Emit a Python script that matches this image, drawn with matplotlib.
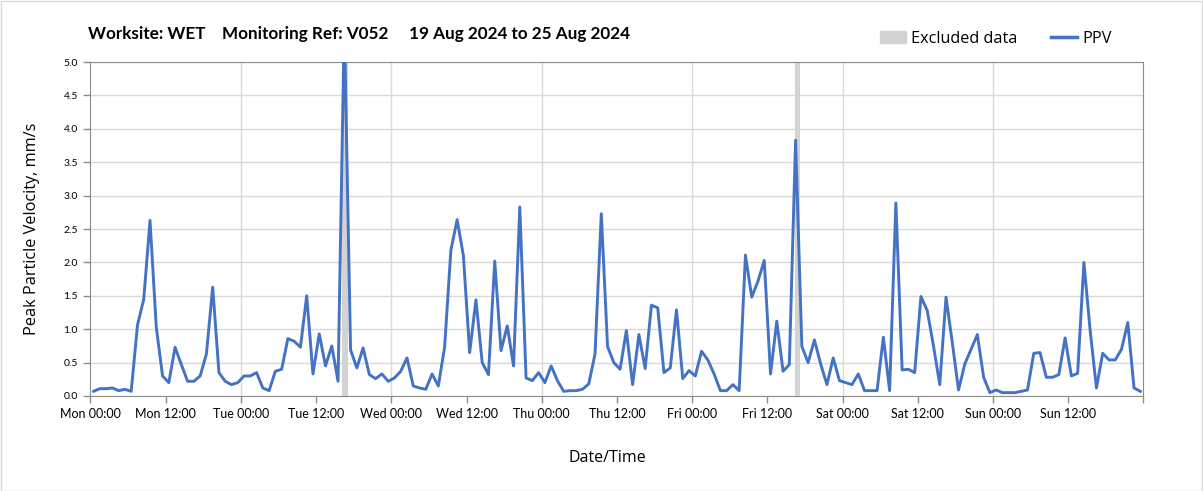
import pandas as pd
import matplotlib
matplotlib.use('Agg')
import matplotlib.pyplot as plt
from matplotlib.patches import Patch, Rectangle
from matplotlib.lines import Line2D

# hourly PPV readings, Mon 19 Aug 2024 -> Sun 25 Aug 2024
ppv = [
    0.07, 0.11, 0.11, 0.12, 0.08, 0.10, 0.07, 1.06, 1.45, 2.63, 1.03, 0.30,
    0.20, 0.73, 0.47, 0.22, 0.22, 0.30, 0.63, 1.63, 0.35, 0.22, 0.17, 0.20,
    0.30, 0.30, 0.35, 0.12, 0.08, 0.37, 0.40, 0.86, 0.82, 0.73, 1.50, 0.33,
    0.93, 0.45, 0.75, 0.22, 5.60, 0.69, 0.42, 0.72, 0.32, 0.26, 0.33, 0.22,
    0.27, 0.37, 0.57, 0.15, 0.12, 0.10, 0.33, 0.15, 0.73, 2.18, 2.64, 2.10,
    0.65, 1.44, 0.50, 0.32, 2.02, 0.68, 1.05, 0.45, 2.83, 0.27, 0.23, 0.35,
    0.20, 0.45, 0.23, 0.07, 0.08, 0.08, 0.10, 0.18, 0.63, 2.73, 0.74, 0.50,
    0.40, 0.98, 0.17, 0.92, 0.41, 1.36, 1.32, 0.35, 0.42, 1.29, 0.26, 0.38,
    0.30, 0.67, 0.54, 0.33, 0.08, 0.08, 0.17, 0.08, 2.11, 1.48, 1.72, 2.03,
    0.33, 1.12, 0.37, 0.47, 3.83, 0.74, 0.50, 0.84, 0.48, 0.17, 0.57, 0.23,
    0.20, 0.17, 0.33, 0.08, 0.08, 0.08, 0.88, 0.08, 2.89, 0.39, 0.40, 0.35,
    1.49, 1.28, 0.75, 0.17, 1.48, 0.80, 0.09, 0.48, 0.70, 0.92, 0.28, 0.05,
    0.09, 0.05, 0.05, 0.05, 0.07, 0.09, 0.64, 0.65, 0.28, 0.28, 0.32, 0.87,
    0.30, 0.34, 2.00, 0.98, 0.12, 0.64, 0.54, 0.54, 0.70, 1.10, 0.12, 0.07,
]
times = pd.date_range('2024-08-19 00:30', periods=len(ppv), freq='h')

excluded = [
    ('2024-08-20 16:05', '2024-08-20 17:10'),
    ('2024-08-23 16:20', '2024-08-23 17:15'),
]

title = 'Worksite: WET    Monitoring Ref: V052     19 Aug 2024 to 25 Aug 2024'
blue = '#4472C4'
grey = '#D3D3D3'

fig = plt.figure(figsize=(12.03, 4.91), dpi=100)
fig.patches.append(Rectangle((0.001, 0.001), 0.998, 0.996, transform=fig.transFigure,
                             fill=False, edgecolor='#D9D9D9', linewidth=1))
ax = fig.add_axes([0.0752, 0.1935, 0.8753, 0.680])

for start, end in excluded:
    ax.axvspan(pd.Timestamp(start), pd.Timestamp(end), color=grey, lw=0, zorder=1)

ax.plot(times, ppv, color=blue, lw=2.1, zorder=3)

ax.set_ylim(0, 5)
ax.set_yticks([i * 0.5 for i in range(11)])
ax.set_yticklabels([f'{i * 0.5:.1f}' for i in range(11)], fontsize=7.5, family='Lato')
x0, x1 = pd.Timestamp('2024-08-19'), pd.Timestamp('2024-08-26')
ax.set_xlim(x0, x1)
xt = pd.date_range(x0, x1, freq='12h')
ax.set_xticks(xt)
ax.set_xticklabels([t.strftime('%a %H:%M') if t < x1 else '' for t in xt],
                   fontsize=9, family='Lato')
for t in pd.date_range(x0, x1, freq='D')[1:-1]:
    ax.axvline(t, color='#D9D9D9', lw=1, zorder=0)
ax.yaxis.grid(True, color='#D9D9D9', lw=1, zorder=0)
ax.set_axisbelow(True)
ax.tick_params(length=5, color='#8C8C8C', width=1, pad=4)
for s in ax.spines.values():
    s.set_color('#8C8C8C')

ax.set_ylabel('Peak Particle Velocity, mm/s', fontsize=11.7, family='Open Sans')
ax.yaxis.set_label_coords(-0.048, 0.5)
ax.set_xlabel('Date/Time', fontsize=11.5, family='Open Sans')
ax.xaxis.set_label_coords(0.491, -0.162)

fig.text(0.073, 0.931, title, fontsize=12.3, fontweight='bold', family='Lato', va='center')

handles = [Patch(color=grey, label='Excluded data'), Line2D([], [], color=blue, lw=2.5, label='PPV')]
fig.legend(handles=handles, loc='center right', bbox_to_anchor=(0.936, 0.921), ncol=2,
           frameon=False, prop={'family': 'Open Sans', 'size': 11.7}, handlelength=1.6,
           columnspacing=2.05, handletextpad=0.3)

fig.savefig('out.png', dpi=100)
